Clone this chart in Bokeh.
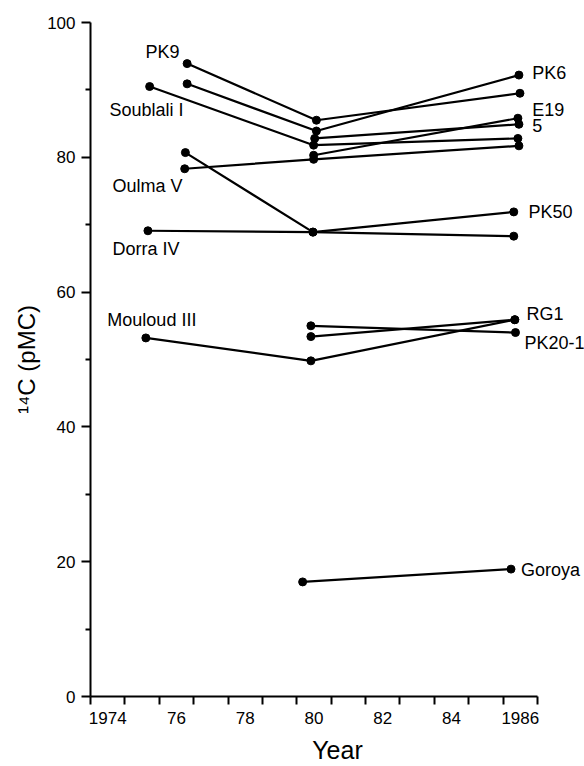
from bokeh.plotting import figure
from bokeh.models import Range1d, FixedTicker, LabelSet, ColumnDataSource, LinearAxis
from bokeh.core.properties import value
from bokeh.embed import file_html
from bokeh.resources import INLINE

# ---------------- data (year, 14C pMC) ----------------
pk9_year = [1976.81, 1980.57, 1986.49]
pk9_pmc = [93.9, 85.5, 89.5]

pk6_year = [1976.81, 1980.57, 1986.46]
pk6_pmc = [90.9, 83.9, 92.2]

soublali_year = [1975.72, 1980.49, 1986.43]
soublali_pmc = [90.5, 81.8, 82.8]

oulma_year = [1976.74, 1980.49, 1986.46]
oulma_pmc = [78.3, 79.7, 81.7]

pk50_year = [1976.76, 1980.47, 1986.31]
pk50_pmc = [80.7, 68.9, 71.9]

dorra_year = [1975.67, 1980.47, 1986.31]
dorra_pmc = [69.1, 68.9, 68.3]

well5_year = [1980.52, 1986.46]
well5_pmc = [82.8, 84.9]

e19_year = [1980.49, 1986.43]
e19_pmc = [80.3, 85.8]

mouloud_year = [1975.61, 1980.41, 1986.34]
mouloud_pmc = [53.2, 49.8, 55.9]

pk20_year = [1980.41, 1986.36]
pk20_pmc = [55.0, 54.0]

rg1_year = [1980.41, 1986.34]
rg1_pmc = [53.4, 55.9]

goroya_year = [1980.17, 1986.23]
goroya_pmc = [17.0, 18.9]

series = [
    (pk9_year, pk9_pmc), (pk6_year, pk6_pmc), (soublali_year, soublali_pmc),
    (oulma_year, oulma_pmc), (pk50_year, pk50_pmc), (dorra_year, dorra_pmc),
    (well5_year, well5_pmc), (e19_year, e19_pmc), (mouloud_year, mouloud_pmc),
    (pk20_year, pk20_pmc), (rg1_year, rg1_pmc), (goroya_year, goroya_pmc),
]

# well names and where they are written (data coordinates, text baseline)
well_names = ["PK9", "Soublali I", "Oulma V", "Dorra IV", "Mouloud III",
              "PK6", "E19", "5", "PK50", "RG1", "PK20-1", "Goroya"]
name_x = [1975.60, 1974.55, 1974.64, 1974.64, 1974.49,
          1986.85, 1986.85, 1986.85, 1986.74, 1986.68, 1986.62, 1986.52]
name_y = [94.8, 86.1, 74.85, 65.5, 54.9,
          91.6, 86.1, 83.7, 71.0, 55.8, 51.5, 17.9]

# axes
x_tick_years = list(range(1974, 1988))
x_label_years = [1974, 1976, 1978, 1980, 1982, 1984, 1986]
x_label_texts = ["1974", "76", "78", "80", "82", "84", "1986"]
y_ticks = [0, 20, 40, 60, 80, 100]
y_minor = [10, 30, 50, 70, 90]

FONT = "Liberation Sans"
PX_PER_YEAR = 447 / 13.0
X_END = 1974 + (584 - 90) / PX_PER_YEAR   # frame runs to the right edge

p = figure(width=584, height=766,
           x_range=Range1d(1974, X_END), y_range=Range1d(0, 100),
           output_backend="svg", toolbar_location=None,
           min_border_left=90, min_border_right=0,
           min_border_top=22, min_border_bottom=68)
p.outline_line_color = None
p.grid.visible = False
p.background_fill_color = "white"
p.border_fill_color = "white"

# x axis 1: a tick at every year, no labels
xa = p.xaxis[0]
xa.bounds = (1974, 1987)
xa.ticker = FixedTicker(ticks=x_tick_years)
xa.major_label_overrides = {t: "" for t in x_tick_years}
xa.major_label_text_font_size = "0px"
xa.major_label_standoff = 0
xa.axis_line_width = 2
xa.axis_line_color = "black"
xa.major_tick_line_width = 2
xa.major_tick_in = 0
xa.major_tick_out = 8
xa.minor_tick_line_color = None

# x axis 2: labels at mid-year, plus the title
label_pos = [y + 0.5 for y in x_label_years]
xb = LinearAxis(ticker=FixedTicker(ticks=label_pos),
                major_label_overrides={pos: t for pos, t in zip(label_pos, x_label_texts)},
                bounds=(1974, 1987))
xb.axis_line_color = None
xb.major_tick_line_color = None
xb.minor_tick_line_color = None
xb.major_tick_in = 0
xb.major_tick_out = 0
xb.major_label_standoff = 7
xb.major_label_text_font = FONT
xb.major_label_text_font_size = "17px"
xb.major_label_text_color = "black"
xb.axis_label = "Year"
xb.axis_label_standoff = 9
xb.axis_label_text_font = FONT
xb.axis_label_text_font_size = "25px"
xb.axis_label_text_font_style = "normal"
xb.axis_label_text_color = "black"
p.add_layout(xb, "below")

ya = p.yaxis[0]
ya.bounds = (0, 100)
ya.ticker = FixedTicker(ticks=y_ticks, minor_ticks=y_minor)
ya.axis_line_width = 2
ya.axis_line_color = "black"
ya.major_tick_line_width = 2
ya.minor_tick_line_width = 2
ya.major_tick_in = 0
ya.major_tick_out = 9
ya.minor_tick_in = 0
ya.minor_tick_out = 5
ya.major_label_standoff = 6
ya.major_label_text_font = FONT
ya.major_label_text_font_size = "17px"
ya.major_label_text_color = "black"
ya.axis_label = "\u00b9\u2074C (pMC)"
ya.axis_label_standoff = 4
ya.axis_label_text_font = FONT
ya.axis_label_text_font_size = "24px"
ya.axis_label_text_font_style = "normal"
ya.axis_label_text_color = "black"

for yrs, vals in series:
    p.line(yrs, vals, line_color="black", line_width=2.2)
    p.scatter(yrs, vals, size=8, fill_color="black", line_color="black")

names_src = ColumnDataSource(dict(x=name_x, y=name_y, text=well_names))
p.add_layout(LabelSet(x="x", y="y", text="text", source=names_src,
                      text_font=value(FONT), text_font_size=value("18px"),
                      text_color="black", text_align="left",
                      text_baseline="alphabetic"))

open("out.html", "w").write(file_html(p, INLINE))
